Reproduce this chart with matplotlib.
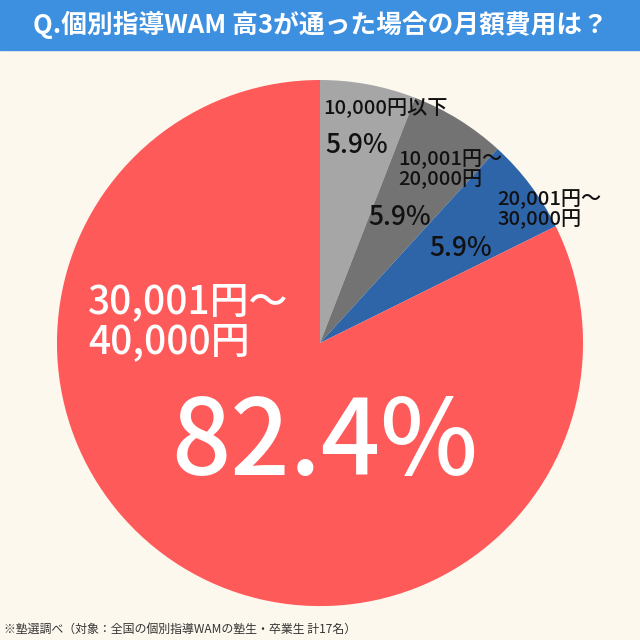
import matplotlib
matplotlib.use("Agg")
import matplotlib.pyplot as plt
from matplotlib.patches import Rectangle

plt.rcParams['font.family'] = ['Noto Sans CJK JP', 'DejaVu Sans']

categories = ["10,000円以下", "10,001円～\n20,000円", "20,001円～\n30,000円", "30,001円～\n40,000円"]
values = [5.9, 5.9, 5.9, 82.4]
colors = ["#a6a6a6", "#737373", "#2e64a8", "#ff5a5a"]
title = "Q.個別指導WAM 高3が通った場合の月額費用は？"
note = "※塾選調べ（対象：全国の個別指導WAMの塾生・卒業生 計17名）"

fig = plt.figure(figsize=(6.4, 6.4), dpi=100)
fig.patch.set_facecolor("#fdf8ee")
fig.patches.append(Rectangle((0, 1 - 50/640), 1, 50/640, transform=fig.transFigure, color="#3d8fe0", zorder=0))
fig.text(0.5, 1 - 25/640, title, color="white", fontsize=18.5, fontweight="bold", ha="center", va="center")

ax = fig.add_axes([0.089, 0.053, 0.822, 0.822])
ax.pie(values, colors=colors, startangle=90, counterclock=False, radius=1)
ax.set_xlim(-1, 1); ax.set_ylim(-1, 1); ax.set_aspect("equal")

def px(x, y):
    return ((x - 320) / 263, (343 - y) / 263)

kw = dict(color="#111", fontweight="medium")
ax.text(*px(323, 108), categories[0], fontsize=14.5, ha="left", va="center", **kw)
ax.text(*px(357, 145), f"{values[0]}%", fontsize=19, ha="center", va="center", **kw)
ax.text(*px(398, 169), categories[1], fontsize=14.5, ha="left", va="center", linespacing=1.0, **kw)
ax.text(*px(400, 217), f"{values[1]}%", fontsize=19, ha="center", va="center", **kw)
ax.text(*px(497, 209), categories[2], fontsize=14.5, ha="left", va="center", linespacing=1.0, **kw)
ax.text(*px(461, 248), f"{values[2]}%", fontsize=19, ha="center", va="center", **kw)
ax.text(*px(88, 322), categories[3], fontsize=28, ha="left", va="center", color="white", linespacing=1.0, fontweight="medium")
ax.text(*px(325, 445), f"{values[3]}%", fontsize=75, ha="center", va="center", color="white", fontweight="medium")

fig.text(4/640, 1 - 629/640, note, fontsize=8.6, ha="left", va="center", color="#333")
fig.savefig("out.png", dpi=100, facecolor=fig.get_facecolor())
